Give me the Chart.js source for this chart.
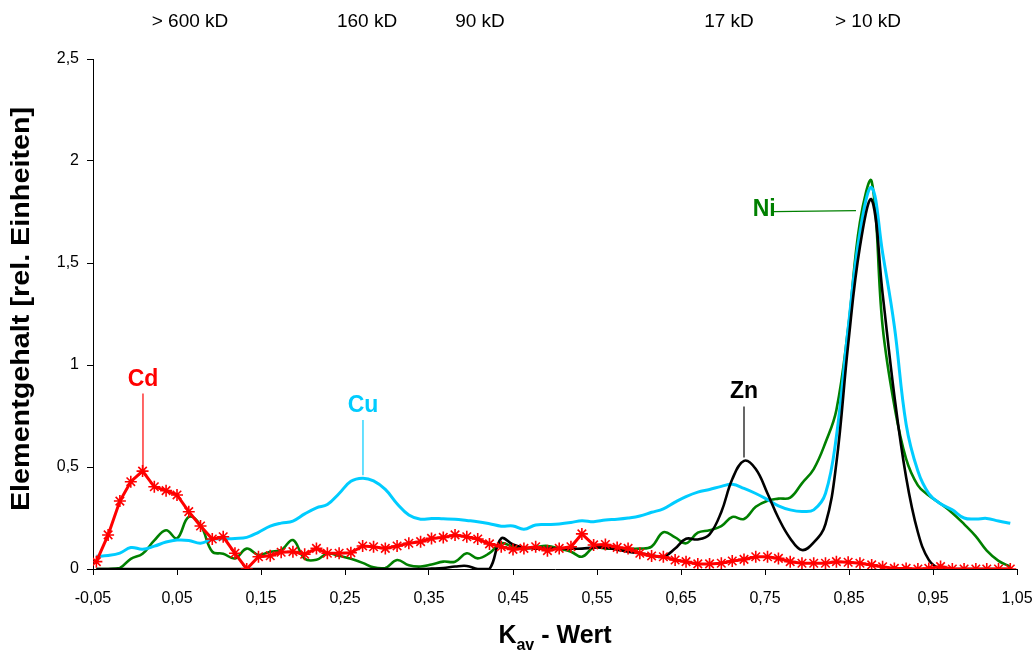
<!DOCTYPE html>
<html>
<head>
<meta charset="utf-8">
<script src="https://cdn.jsdelivr.net/npm/chart.js@4.4.1/dist/chart.umd.min.js"></script>
<style>
  html, body { margin: 0; padding: 0; background: #fff; }
  #wrap { width: 1034px; height: 653px; }
</style>
</head>
<body>
<div id="wrap"><canvas id="myChart"></canvas></div>
<script>
// Kav values of the fractions
const kav = [
  -0.046, -0.032, -0.018, -0.005, 0.009, 0.023, 0.037, 0.050, 0.064, 0.078,
  0.092, 0.105, 0.119, 0.133, 0.147, 0.161, 0.174, 0.188, 0.202, 0.216,
  0.229, 0.243, 0.257, 0.271, 0.284, 0.298, 0.312, 0.326, 0.340, 0.353,
  0.367, 0.381, 0.395, 0.408, 0.422, 0.436, 0.450, 0.463, 0.477, 0.491,
  0.505, 0.519, 0.532, 0.546, 0.560, 0.574, 0.587, 0.601, 0.615, 0.629,
  0.643, 0.656, 0.670, 0.684, 0.698, 0.711, 0.725, 0.739, 0.753, 0.766,
  0.780, 0.794, 0.808, 0.822, 0.835, 0.849, 0.863, 0.877, 0.890, 0.904,
  0.918, 0.932, 0.945, 0.959, 0.973, 0.987, 1.001, 1.014, 1.028, 1.042
];

const cd = [
  0.036, 0.167, 0.333, 0.428, 0.480, 0.403, 0.384, 0.363, 0.281, 0.211,
  0.147, 0.158, 0.077, 0.000, 0.060, 0.065, 0.082, 0.085, 0.072, 0.101,
  0.077, 0.077, 0.080, 0.113, 0.109, 0.101, 0.113, 0.126, 0.134, 0.150,
  0.155, 0.167, 0.158, 0.147, 0.123, 0.109, 0.096, 0.101, 0.109, 0.090,
  0.101, 0.109, 0.172, 0.118, 0.120, 0.106, 0.101, 0.077, 0.064, 0.060,
  0.044, 0.036, 0.025, 0.025, 0.028, 0.039, 0.047, 0.060, 0.060, 0.052,
  0.036, 0.028, 0.028, 0.028, 0.036, 0.033, 0.028, 0.020, 0.011, 0.003,
  0.003, 0.000, 0.003, 0.012, 0.000, 0.000, 0.000, 0.000, 0.000, 0.000
];

const cu = [
  0.062, 0.066, 0.078, 0.105, 0.097, 0.112, 0.132, 0.142, 0.140, 0.126,
  0.146, 0.148, 0.150, 0.155, 0.180, 0.210, 0.225, 0.235, 0.270, 0.300,
  0.316, 0.370, 0.430, 0.445, 0.432, 0.390, 0.320, 0.265, 0.244, 0.248,
  0.246, 0.244, 0.238, 0.232, 0.222, 0.210, 0.211, 0.195, 0.216, 0.218,
  0.221, 0.228, 0.237, 0.232, 0.240, 0.244, 0.250, 0.260, 0.278, 0.295,
  0.328, 0.355, 0.377, 0.390, 0.405, 0.415, 0.395, 0.370, 0.340, 0.310,
  0.290, 0.282, 0.290, 0.370, 0.650, 1.180, 1.650, 1.870, 1.550, 1.190,
  0.710, 0.480, 0.370, 0.320, 0.290, 0.250, 0.245, 0.248, 0.235, 0.224
];

const ni = [
  0.000, 0.000, 0.005, 0.050, 0.075, 0.140, 0.190, 0.150, 0.255, 0.215,
  0.085, 0.075, 0.052, 0.100, 0.069, 0.085, 0.093, 0.142, 0.050, 0.045,
  0.075, 0.065, 0.050, 0.030, 0.008, 0.005, 0.044, 0.018, 0.012, 0.022,
  0.036, 0.036, 0.077, 0.052, 0.078, 0.126, 0.109, 0.100, 0.108, 0.113,
  0.100, 0.085, 0.060, 0.105, 0.100, 0.100, 0.100, 0.100, 0.110, 0.180,
  0.155, 0.126, 0.178, 0.190, 0.210, 0.255, 0.245, 0.305, 0.335, 0.345,
  0.350, 0.420, 0.490, 0.620, 0.780, 1.180, 1.700, 1.900, 1.190, 0.800,
  0.540, 0.410, 0.360, 0.320, 0.275, 0.220, 0.160, 0.090, 0.040, 0.012
];

const zn = [
  0, 0, 0, 0, 0, 0, 0, 0, 0, 0,
  0, 0, 0, 0, 0, 0, 0, 0, 0, 0,
  0, 0, 0, 0, 0, 0, 0, 0, 0, 0.002,
  0.005, 0.012, 0.015, 0.000, 0.000, 0.150, 0.120, 0.105, 0.100, 0.100,
  0.100, 0.100, 0.100, 0.105, 0.105, 0.095, 0.085, 0.077, 0.068, 0.060,
  0.100, 0.148, 0.145, 0.170, 0.280, 0.440, 0.530, 0.490, 0.370, 0.250,
  0.150, 0.093, 0.130, 0.220, 0.520, 1.100, 1.580, 1.810, 1.350, 0.850,
  0.450, 0.180, 0.045, 0, 0, 0, 0, 0, 0, 0
];

const xTicks = [-0.05, 0.05, 0.15, 0.25, 0.35, 0.45, 0.55, 0.65, 0.75, 0.85, 0.95, 1.05];
const yTicks = [0, 0.5, 1, 1.5, 2, 2.5];

// molecular size marks along the top
const sizeLabels = ['> 600 kD', '160 kD', '90 kD', '17 kD', '> 10 kD'];
const sizeKav = [0.0655, 0.2762, 0.4107, 0.7071, 0.8726];

const font = '"Liberation Sans", Arial, sans-serif';

function pts(ys) {
  return ys.map((v, i) => ({ x: kav[i], y: v }));
}

function deComma(v) {
  return String(+v.toFixed(2)).replace('.', ',');
}

// element labels with leader lines (in data units)
const callouts = [
  { text: 'Cd', color: '#ff0000', at: [0.0095, 0.93], line: [[0.0095, 0.86], [0.0095, 0.48]] },
  { text: 'Cu', color: '#00ccff', at: [0.2714, 0.80], line: [[0.2714, 0.73], [0.2714, 0.46]] },
  { text: 'Zn', color: '#000000', at: [0.7250, 0.868], line: [[0.7250, 0.797], [0.7250, 0.546]] },
  { text: 'Ni', color: '#008000', at: [0.7490, 1.76], line: [[0.7607, 1.752], [0.8583, 1.757]] }
];

const overlay = {
  id: 'overlay',
  afterDraw(chart) {
    const { ctx } = chart;
    const x = chart.scales.x, y = chart.scales.y;
    ctx.save();

    ctx.fillStyle = '#000';
    ctx.font = '19px ' + font;
    ctx.textAlign = 'center';
    ctx.textBaseline = 'middle';
    sizeLabels.forEach((t, i) => {
      ctx.fillText(t, x.getPixelForValue(sizeKav[i]), 22);
    });

    callouts.forEach(c => {
      ctx.strokeStyle = c.color;
      ctx.lineWidth = 1.2;
      ctx.beginPath();
      ctx.moveTo(x.getPixelForValue(c.line[0][0]), y.getPixelForValue(c.line[0][1]));
      ctx.lineTo(x.getPixelForValue(c.line[1][0]), y.getPixelForValue(c.line[1][1]));
      ctx.stroke();
      ctx.fillStyle = c.color;
      ctx.font = 'bold 23px ' + font;
      ctx.fillText(c.text, x.getPixelForValue(c.at[0]), y.getPixelForValue(c.at[1]));
    });

    // x title with subscript
    ctx.fillStyle = '#000';
    ctx.textAlign = 'left';
    ctx.textBaseline = 'alphabetic';
    const big = 'bold 25px ' + font, small = 'bold 16px ' + font;
    ctx.font = big;
    const wK = ctx.measureText('K').width;
    const wRest = ctx.measureText(' - Wert').width;
    ctx.font = small;
    const wSub = ctx.measureText('av').width;
    let px = 555 - (wK + wSub + wRest) / 2;
    const base = 643;
    ctx.font = big;
    ctx.fillText('K', px, base);
    px += wK;
    ctx.font = small;
    ctx.fillText('av', px, base + 7);
    px += wSub;
    ctx.font = big;
    ctx.fillText(' - Wert', px, base);

    // y title
    ctx.translate(22, 309);
    ctx.rotate(-Math.PI / 2);
    ctx.scale(1.15, 1);
    ctx.textAlign = 'center';
    ctx.textBaseline = 'middle';
    ctx.font = 'bold 25px ' + font;
    ctx.fillText('Elementgehalt [rel. Einheiten]', 0, 0);

    ctx.restore();
  }
};

const smooth = { tension: 0.4, pointRadius: 0, fill: false };

const config = {
  type: 'line',
  data: {
    datasets: [
      {
        label: 'Cd', data: pts(cd),
        borderColor: '#ff0000', borderWidth: 3, tension: 0,
        pointStyle: 'star', pointRadius: 6, pointBorderWidth: 1.6,
        pointBorderColor: '#ff0000', pointBackgroundColor: '#ff0000'
      },
      Object.assign({ label: 'Zn', data: pts(zn), borderColor: '#000000', borderWidth: 2.6 }, smooth),
      Object.assign({ label: 'Cu', data: pts(cu), borderColor: '#00ccff', borderWidth: 3 }, smooth),
      Object.assign({ label: 'Ni', data: pts(ni), borderColor: '#008000', borderWidth: 2.6 }, smooth)
    ]
  },
  options: {
    responsive: true,
    maintainAspectRatio: false,
    animation: false,
    layout: { padding: { left: 0, top: 59, right: 17, bottom: 0 } },
    plugins: {
      legend: { display: false },
      tooltip: { enabled: false }
    },
    scales: {
      x: {
        type: 'linear',
        min: -0.05,
        max: 1.05,
        afterBuildTicks: scale => { scale.ticks = xTicks.map(v => ({ value: v })); },
        afterFit: scale => {
          scale.height = 84;
          scale.paddingLeft = 0;
          scale.paddingRight = 0;
        },
        grid: { drawOnChartArea: false, drawTicks: true, tickLength: 6, color: '#000' },
        border: { display: true, color: '#000', width: 1 },
        ticks: {
          color: '#000', padding: 14, maxRotation: 0, autoSkip: false,
          font: { family: font, size: 16 },
          callback: v => deComma(v)
        }
      },
      y: {
        min: 0,
        max: 2.5,
        afterBuildTicks: scale => { scale.ticks = yTicks.map(v => ({ value: v })); },
        afterFit: scale => { scale.width = 93; },
        grid: { drawOnChartArea: false, drawTicks: true, tickLength: 6, color: '#000' },
        border: { display: true, color: '#000', width: 1 },
        ticks: {
          color: '#000', padding: 8,
          font: { family: font, size: 16 },
          callback: v => deComma(v)
        }
      }
    }
  },
  plugins: [overlay]
};

const myChart = new Chart(document.getElementById('myChart'), config);
</script>
</body>
</html>
